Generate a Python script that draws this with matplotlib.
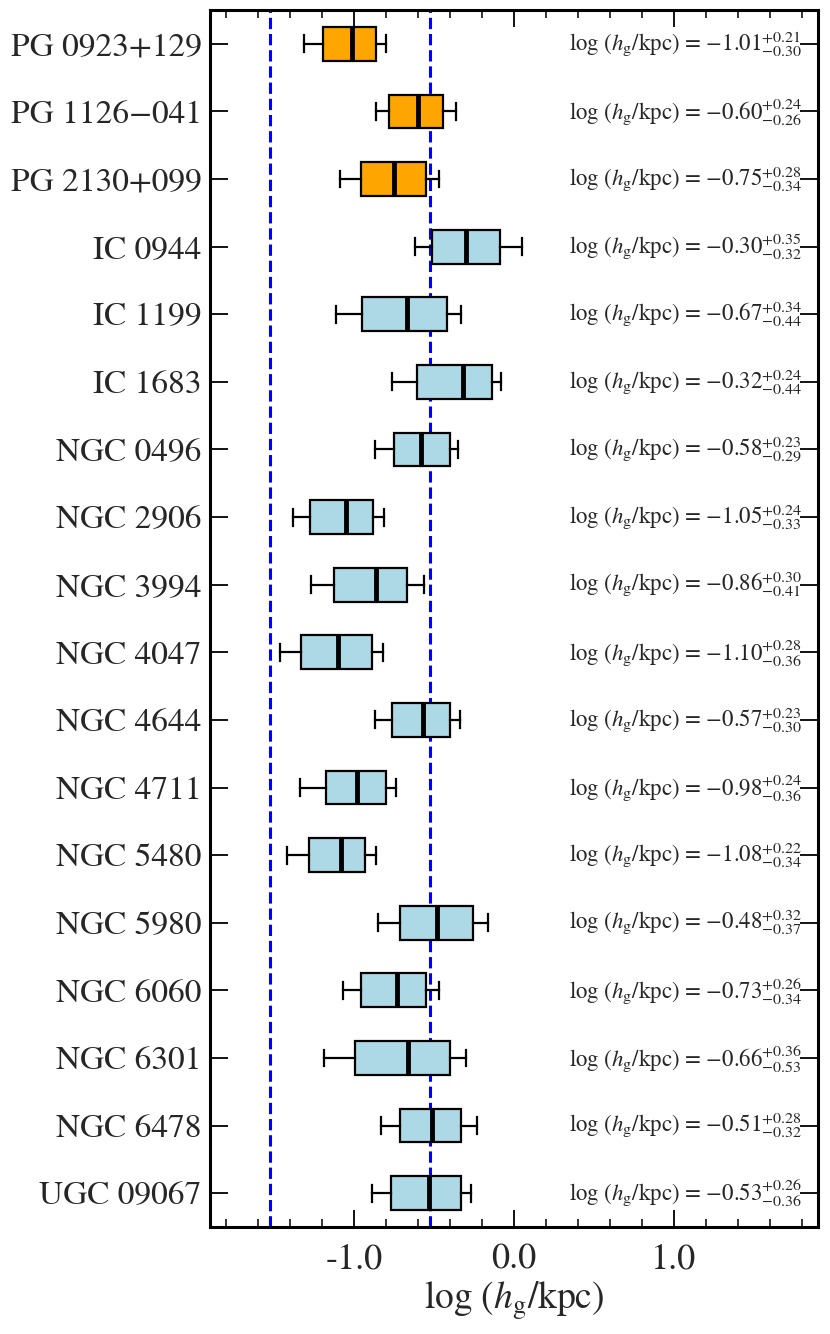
import matplotlib
matplotlib.use('Agg')
import matplotlib.pyplot as plt
import numpy as np

# galaxies, top to bottom
names = ['PG 0923+129', 'PG 1126\u2212041', 'PG 2130+099',
         'IC 0944', 'IC 1199', 'IC 1683',
         'NGC 0496', 'NGC 2906', 'NGC 3994', 'NGC 4047',
         'NGC 4644', 'NGC 4711', 'NGC 5480', 'NGC 5980',
         'NGC 6060', 'NGC 6301', 'NGC 6478', 'UGC 09067']
is_pg = [True, True, True] + [False] * 15

# median and 16/84 offsets (as printed)
med = [-1.01, -0.60, -0.75, -0.30, -0.67, -0.32, -0.58, -1.05, -0.86,
       -1.10, -0.57, -0.98, -1.08, -0.48, -0.73, -0.66, -0.51, -0.53]
err_hi = [0.21, 0.24, 0.28, 0.35, 0.34, 0.24, 0.23, 0.24, 0.30,
          0.28, 0.23, 0.24, 0.22, 0.32, 0.26, 0.36, 0.28, 0.26]
err_lo = [0.30, 0.26, 0.34, 0.32, 0.44, 0.44, 0.29, 0.33, 0.41,
          0.36, 0.30, 0.36, 0.34, 0.37, 0.34, 0.53, 0.32, 0.36]

# quartiles
q1 = [-1.196, -0.783, -0.954, -0.515, -0.950, -0.608, -0.750, -1.275, -1.123,
      -1.331, -0.765, -1.175, -1.279, -0.710, -0.956, -0.996, -0.715, -0.769]
q3 = [-0.865, -0.442, -0.550, -0.088, -0.421, -0.140, -0.400, -0.881, -0.669,
      -0.890, -0.400, -0.798, -0.931, -0.254, -0.548, -0.398, -0.329, -0.333]

ref_lines = [np.log10(0.03), np.log10(0.3)]
xticks = [-1.0, 0.0, 1.0]
xtick_labels = ['-1.0', '0.0', '1.0']

plt.rcParams['font.family'] = ['STIXGeneral', 'DejaVu Serif']
plt.rcParams['mathtext.fontset'] = 'stix'
txt = '#262626'

fig = plt.figure(figsize=(8.3, 13.34), dpi=100)
ax = fig.add_axes([0.253, 0.0802, 0.7325, 0.9123])

n = len(names)
pos = np.arange(1, n + 1)

stats = []
for i in range(n):
    stats.append(dict(med=med[i], q1=q1[i], q3=q3[i],
                      whislo=med[i] - err_lo[i], whishi=med[i] + err_hi[i],
                      fliers=[]))

bp = ax.bxp(stats, positions=pos, widths=0.5, vert=False, patch_artist=True,
            showfliers=False,
            boxprops=dict(edgecolor='black', linewidth=1.6),
            medianprops=dict(color='black', linewidth=3.5),
            whiskerprops=dict(color='black', linewidth=1.6),
            capprops=dict(color='black', linewidth=1.6))
for patch, pg in zip(bp['boxes'], is_pg):
    patch.set_facecolor('orange' if pg else 'lightblue')
    patch.set_zorder(3)
for k in ('medians', 'whiskers', 'caps'):
    for ln in bp[k]:
        ln.set_zorder(4)

for xv in ref_lines:
    ax.axvline(xv, color='blue', linestyle='--', linewidth=2.2, zorder=1)

for i in range(n):
    s = (r'$\log\,(h_{\rm g}/{\rm kpc})$ = $%.2f^{+%.2f}_{-%.2f}$'
         % (med[i], err_hi[i], err_lo[i]))
    ax.text(0.975, pos[i], s, transform=ax.get_yaxis_transform(),
            ha='right', va='center', fontsize=16.5, color=txt)

ax.set_xlim(-1.9, 1.9)
ax.set_ylim(n + 0.5, 0.5)
ax.set_yticks(pos)
ax.set_yticklabels(names, fontsize=24, color=txt)
ax.set_xticks(xticks)
ax.set_xticklabels(xtick_labels, fontsize=26, color=txt)
ax.xaxis.set_minor_locator(plt.MultipleLocator(0.2))
ax.set_xlabel(r'$\log\,(h_{\rm g}/{\rm kpc})$', fontsize=27, color=txt, labelpad=2)

ax.tick_params(axis='x', which='major', direction='in', top=True, length=12, width=1.3, pad=12)
ax.tick_params(axis='x', which='minor', direction='in', top=True, length=6, width=1.1)
ax.tick_params(axis='y', which='major', direction='in', right=True, length=13, width=1.3, pad=6)
for sp in ax.spines.values():
    sp.set_linewidth(2.2)

fig.savefig('out.png', dpi=100)
